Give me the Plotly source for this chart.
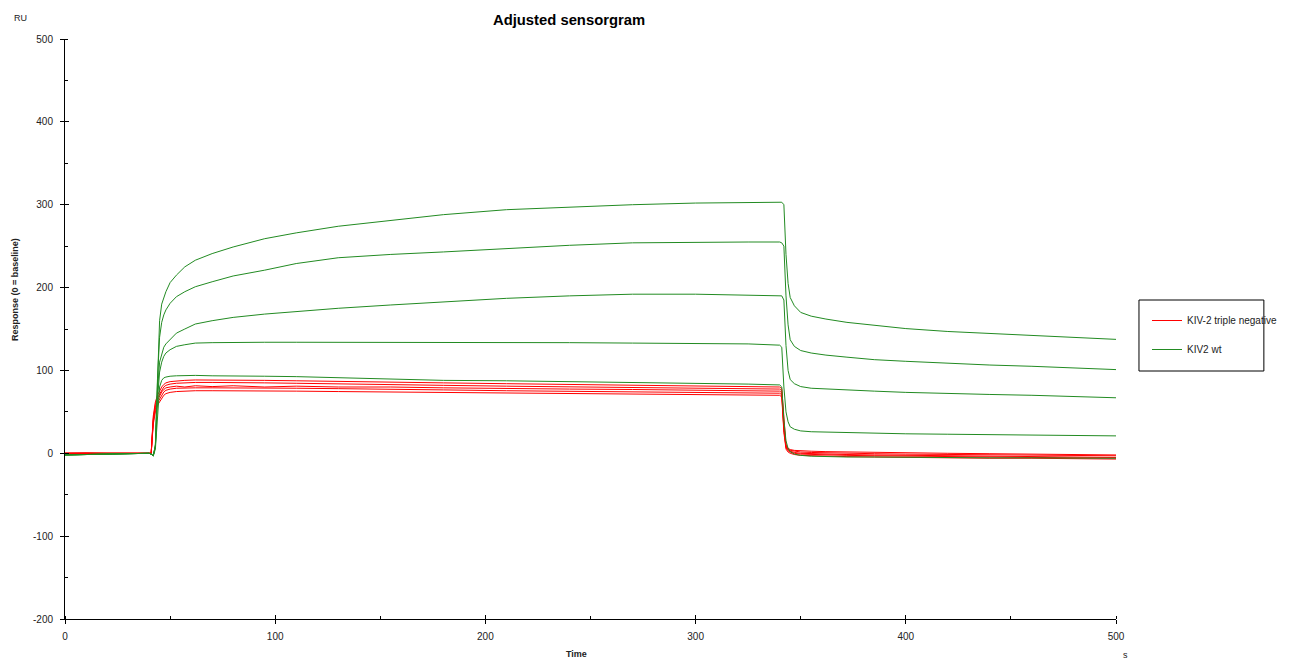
import plotly.graph_objects as go

# ---- data ----
time_s = [0, 10, 20, 30, 40, 41, 42, 43, 44, 45, 46, 47, 48, 50, 53, 57, 62, 70, 80, 95, 110, 130,
          155, 180, 210, 240, 270, 300, 325, 340, 341, 342, 343, 344, 345, 347, 350, 355, 362, 372,
          385, 400, 420, 440, 460, 480, 500]

red_1 = [0, 0, 0.5, 0, 0, 0, 45, 62, 70, 75, 80, 83, 85, 86.5, 87.5, 88, 88.5, 88.5, 88.5, 88, 87.5, 87,
         86, 85, 84, 83, 82, 81.5, 80.5, 80, 78, 40, 10, 6, 4.5, 3.5, 3, 2.5, 2, 1.5, 1, 0.5, 0, -0.5,
         -1, -1.5, -2]
red_2 = [0, 0.5, 0, 0, 0, 0, 42, 59, 67, 72, 77, 80, 82, 83.5, 84.5, 85, 85.5, 85.5, 85.5, 85, 84.5, 84,
         83, 82, 81, 80, 79, 78.5, 78, 77.5, 75.5, 35, 9, 5, 3.5, 2.5, 1.5, 1, 0.5, 0, -0.5, -1, -1.5,
         -2, -2.5, -3, -3]
red_3 = [0, 0, 0, 0.5, 0, 0, 40, 56, 64, 69, 74, 77, 79, 80, 81, 80, 81.5, 80.5, 81.5, 80, 81, 80, 80,
         79, 78, 77.5, 77, 76, 75.5, 75, 73, 30, 8, 4, 2.5, 1, 0, -0.5, -1, -1.5, -2, -2.5, -3, -3.5,
         -4, -4.5, -5]
red_4 = [0, 0, 0, 0, 0.5, 0, 38, 53, 61, 66, 71, 74, 76, 77.5, 78.5, 79, 79, 79, 79, 78.5, 78.5, 78,
         77.5, 76.5, 75.5, 75, 74.5, 73.5, 73, 72.5, 70.5, 28, 7, 3, 1.5, 0, -1, -1.5, -2, -2.5, -3,
         -3.5, -4, -4.5, -5, -5.5, -5.5]
red_5 = [0, 0, 0, 0, 0, 0, 35, 50, 58, 62, 67, 70, 72, 73.5, 74.5, 75, 75.5, 75.5, 75.5, 75, 75, 74.5,
         74, 73, 72.5, 72, 71.5, 71, 70.5, 70, 68, 25, 5, 1.5, 0, -1.5, -2.5, -3, -3.5, -4, -4.5, -5,
         -5.5, -6, -6, -6.5, -7]

green_1 = [-2, -1.5, -1, -0.5, 0, -1, -3, 10, 100, 160, 180, 188, 195, 206, 215, 225, 233, 241, 249,
           259, 266, 274, 281, 288, 294, 297, 300, 302, 303, 303, 303, 300, 240, 205, 188, 178, 170,
           165.5, 162, 158, 154.5, 150.5, 147, 144.5, 142, 140, 137.5]
green_2 = [-2, -1.5, -1, -0.5, 0, -1, -3, 10, 90, 140, 158, 167, 173, 181, 189, 195, 201, 207, 214,
           221, 229, 236, 240, 243, 247, 251, 254, 255, 255, 255, 254, 250, 190, 155, 137, 129, 124,
           121, 118.5, 116, 113, 111, 108.5, 106.5, 105, 103, 101]
green_3 = [-2, -1.5, -1, -0.5, 0, -1, -3, 8, 75, 110, 121, 128, 132, 137, 145, 150, 156, 160, 164,
           168, 171, 175, 179, 183, 187, 190, 192, 192, 191, 190, 190, 185, 130, 100, 89, 84, 80.5,
           78.5, 77.5, 76.5, 75, 73.5, 72, 71, 70, 68.5, 67]
green_4 = [-2, -1.5, -1, -0.5, 0, -1, -3, 8, 65, 98, 110, 117, 121, 125, 129, 131, 133, 133.5, 134,
           134, 134, 134, 134, 134, 134, 133.5, 133, 132.5, 132, 130.5, 128, 80, 50, 38, 32, 29, 27,
           26, 25.5, 25, 24.5, 23.5, 23, 22.5, 22, 21.5, 21]
green_5 = [-2, -1.5, -1, -0.5, 0, -1, -3, 5, 50, 80, 88, 91, 92, 93, 93.5, 94, 94, 93.5, 93.5, 93,
           92.5, 91, 89.5, 88, 87.5, 86.5, 86, 84.5, 83.5, 82.5, 80, 40, 15, 6, 2, -1, -2.5, -3.5, -4,
           -4.5, -4.5, -5, -5, -5.5, -5.5, -6, -6]

red_series = [red_1, red_2, red_3, red_4, red_5]
green_series = [green_1, green_2, green_3, green_4, green_5]
series_names = ["KIV-2 triple negative", "KIV2 wt"]

x_ticks = [0, 100, 200, 300, 400, 500]
x_tick_labels = ["0", "100", "200", "300", "400", "500"]
y_ticks = [-200, -100, 0, 100, 200, 300, 400, 500]
y_tick_labels = ["-200", "-100", "0", "100", "200", "300", "400", "500"]

# ---- figure ----
W, H = 1293, 659
L, R, T, B = 65, 1117, 39, 619
RED = "rgb(255,0,0)"
GREEN = "rgb(34,139,34)"
FONT = "Liberation Sans, Arial, sans-serif"


def px(xp):
    return (xp - L) / (R - L)


def py(yp):
    return (B - yp) / (B - T)


fig = go.Figure()
for i, ys in enumerate(red_series):
    fig.add_trace(go.Scatter(x=time_s, y=ys, mode="lines", line=dict(color=RED, width=1),
                             name=series_names[0], legendgroup="red", showlegend=(i == 0)))
for i, ys in enumerate(green_series):
    fig.add_trace(go.Scatter(x=time_s, y=ys, mode="lines", line=dict(color=GREEN, width=1),
                             name=series_names[1], legendgroup="green", showlegend=(i == 0)))
# helper trace for the overlay axes (inner half of the major ticks)
fig.add_trace(go.Scatter(x=[None], y=[None], xaxis="x2", yaxis="y2", showlegend=False,
                         hoverinfo="skip"))

axis_common = dict(showline=True, linecolor="black", linewidth=1, showgrid=False,
                   zeroline=False, ticks="outside", ticklen=4, tickcolor="black", tickwidth=1,
                   tickfont=dict(family=FONT, size=10, color="#222"))

fig.update_layout(
    width=W, height=H,
    margin=dict(l=L, r=W - R, t=T, b=H - B),
    plot_bgcolor="white", paper_bgcolor="white",
    font=dict(family=FONT, size=10, color="#222"),
    xaxis=dict(range=[0, 500], tickvals=x_ticks, ticktext=x_tick_labels, ticklabelstandoff=4,
               **axis_common,
               minor=dict(dtick=50, tick0=0, ticks="inside", ticklen=3, tickcolor="black",
                          showgrid=False)),
    yaxis=dict(range=[-200, 500], tickvals=y_ticks, ticktext=y_tick_labels, ticklabelstandoff=5,
               **axis_common,
               minor=dict(dtick=50, tick0=0, ticks="inside", ticklen=3, tickcolor="black",
                          showgrid=False)),
    xaxis2=dict(range=[0, 500], tickvals=x_ticks, overlaying="x", anchor="y", side="bottom",
                ticks="inside", ticklen=4, tickcolor="black", showticklabels=False,
                showline=False, showgrid=False, zeroline=False),
    yaxis2=dict(range=[-200, 500], tickvals=y_ticks, overlaying="y", anchor="x", side="left",
                ticks="inside", ticklen=4, tickcolor="black", showticklabels=False,
                showline=False, showgrid=False, zeroline=False),
    legend=dict(x=px(1147), y=py(306), xanchor="left", yanchor="top",
                bgcolor="rgba(0,0,0,0)", borderwidth=0, tracegroupgap=10,
                font=dict(family=FONT, size=10, color="#222")),
    shapes=[dict(type="rect", xref="paper", yref="paper", x0=px(1140), x1=px(1265),
                 y0=py(371), y1=py(300), line=dict(color="black", width=1))],
    annotations=[
        dict(text="<b>Adjusted sensorgram</b>", x=px(569), y=py(20), xref="paper", yref="paper",
             xanchor="center", yanchor="middle", showarrow=False,
             font=dict(family=FONT, size=14.8, color="black")),
        dict(text="RU", x=px(20), y=py(18), xref="paper", yref="paper", showarrow=False,
             xanchor="center", yanchor="middle", font=dict(family=FONT, size=9, color="#222")),
        dict(text="<b>Response (0 = baseline)</b>", x=px(15), y=py(290), xref="paper",
             yref="paper", showarrow=False, textangle=-90, xanchor="center", yanchor="middle",
             font=dict(family=FONT, size=9, color="#222")),
        dict(text="<b>Time</b>", x=px(577), y=py(654), xref="paper", yref="paper",
             xanchor="center", yanchor="middle",
             showarrow=False, font=dict(family=FONT, size=9, color="#222")),
        dict(text="s", x=px(1127), y=py(655), xref="paper", yref="paper", showarrow=False,
             xanchor="center", yanchor="middle", font=dict(family=FONT, size=9, color="#222")),
    ],
)

fig.write_html("out.html")
